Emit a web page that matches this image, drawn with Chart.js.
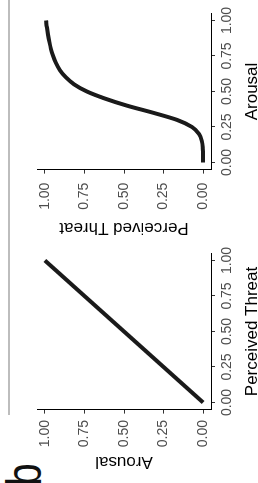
<!DOCTYPE html>
<html><head><meta charset="utf-8">
<script src="https://cdn.jsdelivr.net/npm/chart.js@4.4.1/dist/chart.umd.min.js"></script>
<style>
html,body{margin:0;padding:0;background:#fff;overflow:hidden;width:258px;height:483px;}
#fig{position:absolute;left:0;top:483px;width:483px;height:258px;transform-origin:0 0;transform:rotate(-90deg);overflow:hidden;background:#fff;}
.panel{position:absolute;top:0;width:240px;height:258px;}
#sep{position:absolute;left:68px;top:8px;width:415px;height:2px;background:#bdbdbd;}
#tag{position:absolute;left:-3.2px;top:-1px;font:50px/50px "Liberation Sans",Arial,sans-serif;color:#111;transform:scaleX(0.82);transform-origin:0 0;}
</style></head>
<body>
<div id="fig">
  <div id="sep"></div>
  <div id="tag">b</div>
  <div class="panel" style="left:0"><canvas id="c1" width="240" height="258"></canvas></div>
  <div class="panel" style="left:240px"><canvas id="c2" width="240" height="258"></canvas></div>
</div>
<script>
// ---- data ----
const tickValues = [0, 0.25, 0.5, 0.75, 1];
const tickLabels = ["0.00", "0.25", "0.50", "0.75", "1.00"];

// left panel: x = Perceived Threat, y = Arousal (linear)
const threatLeft  = [0, 1];
const arousalLeft = [0, 1];

// right panel: x = Arousal, y = Perceived Threat (sigmoid)
const arousalRight = [0, 0.05, 0.10, 0.15, 0.20, 0.25, 0.30, 0.35, 0.40, 0.45, 0.50,
                      0.55, 0.60, 0.65, 0.70, 0.75, 0.80, 0.85, 0.90, 0.95, 1.00];
const threatRight  = [0.000, 0.000, 0.002, 0.008, 0.025, 0.070, 0.165, 0.315, 0.480, 0.620, 0.735,
                      0.815, 0.868, 0.905, 0.930, 0.948, 0.962, 0.972, 0.980, 0.987, 0.993];

const FONT = '"Liberation Sans Narrow", "Arial Narrow", "Liberation Sans", Arial, sans-serif';

function axis(title, which, yTitlePad, yTickPad) {
  return {
    type: 'linear', min: -0.05, max: 1.05,
    afterBuildTicks: s => { s.ticks = tickValues.map(v => ({ value: v })); },
    afterFit: s => { if (which === 'x') s.height = 47; else s.width = 73.4; },
    grid: { drawOnChartArea: false, drawTicks: true, tickLength: 4, color: '#333', lineWidth: 1 },
    border: { display: true, color: '#000', width: 1 },
    ticks: {
      color: '#4d4d4d', font: { family: FONT, size: 14 },
      padding: which === 'x' ? 3.6 : yTickPad, maxRotation: 0, minRotation: 0, autoSkip: false,
      callback: v => { const i = tickValues.indexOf(v); return i >= 0 ? tickLabels[i] : ''; }
    },
    title: {
      display: true, text: title, color: '#000', font: { family: FONT, size: 17 },
      padding: which === 'x' ? { top: 0, bottom: -4.2 } : { top: yTitlePad, bottom: 0 }
    }
  };
}

function makeChart(id, xs, ys, xTitle, yTitle, smooth, yTitlePad, yTickPad) {
  return new Chart(document.getElementById(id), {
    type: 'scatter',
    data: {
      datasets: [{
        data: xs.map((x, i) => ({ x: x, y: ys[i] })),
        showLine: true, borderColor: '#1a1a1a', borderWidth: 4,
        pointRadius: 0, pointHoverRadius: 0,
        tension: 0, cubicInterpolationMode: smooth ? 'monotone' : 'default'
      }]
    },
    options: {
      responsive: false, animation: false, devicePixelRatio: 1,
      layout: { padding: { left: 0, top: 37, right: 5.3, bottom: 0 } },
      plugins: { legend: { display: false }, tooltip: { enabled: false } },
      scales: { x: axis(xTitle, 'x'), y: axis(yTitle, 'y', yTitlePad, yTickPad) }
    }
  });
}

makeChart('c1', threatLeft, arousalLeft, 'Perceived Threat', 'Arousal', false, 10.8, 6.4);
makeChart('c2', arousalRight, threatRight, 'Arousal', 'Perceived Threat', true, 5.3, 9);
</script>
</body></html>
